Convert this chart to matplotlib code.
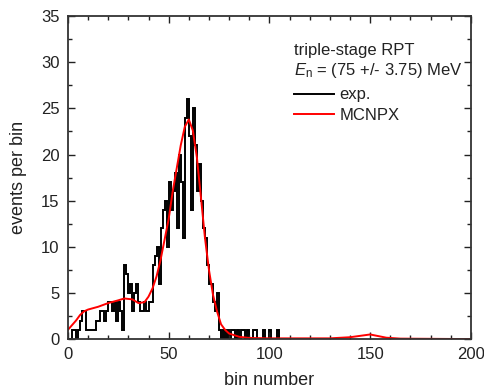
#!/usr/bin/env python3
"""Spectrum of the triple-stage RPT: measured counts vs. MCNPX."""
import numpy as np
import matplotlib
matplotlib.use("Agg")
import matplotlib.pyplot as plt
from matplotlib.ticker import MultipleLocator

plt.rcParams["font.family"] = ["Liberation Sans", "DejaVu Sans"]
plt.rcParams["mathtext.fontset"] = "custom"
plt.rcParams["mathtext.rm"] = "Liberation Sans"
plt.rcParams["mathtext.it"] = "Liberation Sans:italic"

# measured counts per bin, bins 0..104
exp_counts = [
    0, 0, 1, 1, 0, 1, 2, 3, 3, 1,
    1, 1, 1, 1, 2, 2, 3, 3, 2, 3,
    4, 4, 3, 4, 2, 4, 3, 1, 8, 7,
    5, 6, 3, 5, 6, 4, 3, 3, 4, 3,
    4, 4, 8, 9, 10, 6, 12, 14, 15, 10,
    17, 14, 16, 18, 12, 20, 17, 11, 24, 26,
    22, 14, 25, 21, 16, 19, 15, 12, 11, 8,
    6, 6, 4, 3, 5, 1, 0, 1, 0, 1,
    0, 1, 1, 0, 1, 0, 1, 1, 0, 1,
    0, 0, 1, 1, 0, 0, 0, 1, 0, 0,
    1, 0, 0, 0, 1,
]

# MCNPX simulation
mcnpx_bin = [0, 2, 4, 6, 8, 10, 15, 20, 25, 28, 32, 35, 38, 40, 42, 44, 46,
             48, 50, 52, 54, 56, 58, 60, 62, 64, 66, 68, 70, 72, 74, 76, 78,
             80, 85, 90, 100, 130, 140, 150, 158, 165, 200]
mcnpx_val = [1.0, 1.5, 2.0, 2.6, 3.0, 3.2, 3.5, 3.9, 4.2, 4.4, 4.3, 3.9, 4.0,
             4.6, 5.5, 6.8, 8.6, 10.8, 13.0, 16.0, 18.5, 21.0, 23.0, 23.8,
             22.6, 19.7, 15.4, 11.0, 7.5, 4.8, 3.0, 1.6, 1.0, 0.6, 0.25,
             0.12, 0.08, 0.08, 0.2, 0.5, 0.15, 0.05, 0.0]


def main():
    fig = plt.figure(figsize=(4.85, 3.92), dpi=100)
    ax = fig.add_axes([0.140, 0.135, 0.831, 0.824])

    edges = np.arange(len(exp_counts) + 1)
    ax.stairs(exp_counts, edges, color="black", lw=1.4, label="exp.")
    ax.plot(mcnpx_bin, mcnpx_val, color="#ff0000", lw=1.4, label="MCNPX")

    ax.set_xlim(0, 200)
    ax.set_ylim(0, 35)
    ax.xaxis.set_major_locator(MultipleLocator(50))
    ax.xaxis.set_minor_locator(MultipleLocator(10))
    ax.yaxis.set_major_locator(MultipleLocator(5))
    ax.yaxis.set_minor_locator(MultipleLocator(2.5))
    ax.tick_params(which="both", direction="in", top=True, right=True,
                   labelsize=12, colors="#222222", width=1.0)
    ax.tick_params(which="major", length=5, pad=6)
    ax.tick_params(which="minor", length=3)
    for s in ax.spines.values():
        s.set_linewidth(1.3)
        s.set_color("#333333")

    ax.set_xlabel("bin number", fontsize=13, color="#222222", labelpad=7)
    ax.set_ylabel("events per bin", fontsize=13, color="#222222", labelpad=10)

    ax.text(0.561, 0.879, "triple-stage RPT", transform=ax.transAxes,
            fontsize=12, color="#222222")
    ax.text(0.561, 0.817, r"$\it{E}_\mathrm{n}$ = (75 +/- 3.75) MeV",
            transform=ax.transAxes, fontsize=12, color="#222222")
    ax.legend(loc="upper left", bbox_to_anchor=(0.545, 0.80), frameon=False,
              fontsize=12, handlelength=2.4, handletextpad=0.3,
              labelspacing=0.35, borderaxespad=0, labelcolor="#222222")

    fig.savefig("out.png", dpi=100)
    plt.close(fig)


if __name__ == "__main__":
    main()
